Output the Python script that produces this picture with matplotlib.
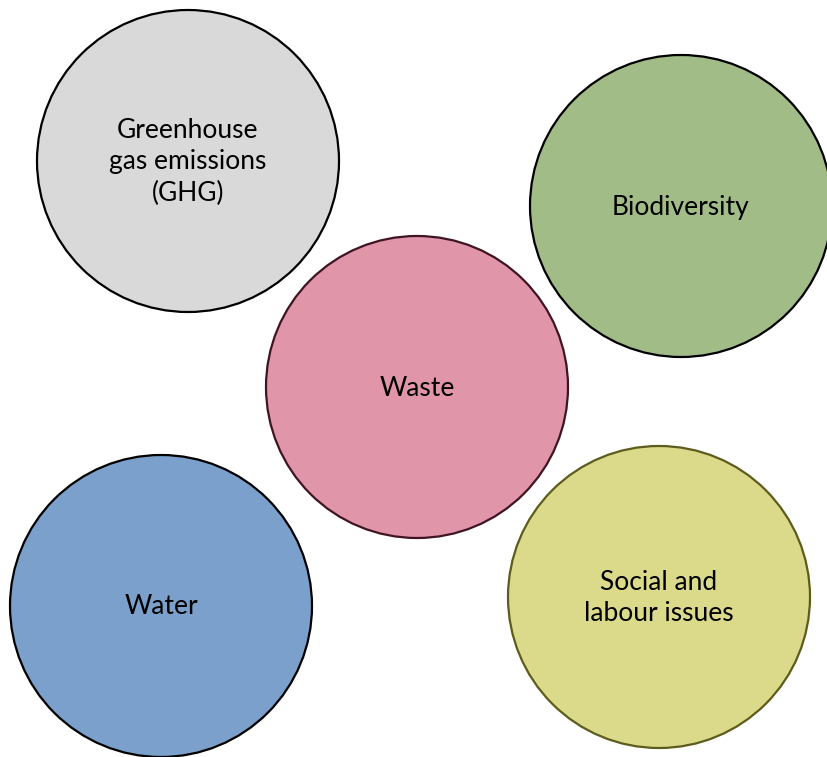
import matplotlib.pyplot as plt
from matplotlib.patches import Circle

# Circle labels, centres (pixel coords of the original picture) and colours
labels = ['Greenhouse\ngas emissions\n(GHG)', 'Biodiversity', 'Waste', 'Water', 'Social and\nlabour issues']
centres_x = [188, 681, 417, 161, 659]
centres_y = [161, 206, 387, 606, 597]
radius = 151
fills = ['#d9d9d9', '#a2bc88', '#e095a9', '#7aa0cb', '#dbda8b']
edges = ['#000000', '#000000', '#3f1423', '#000000', '#5c5c1c']

fig = plt.figure(figsize=(8.27, 7.57), dpi=100)
ax = fig.add_axes([0, 0, 1, 1])
ax.set_xlim(0, 827)
ax.set_ylim(757, 0)
ax.set_aspect('equal')
ax.axis('off')

for lab, cx, cy, fc, ec in zip(labels, centres_x, centres_y, fills, edges):
    ax.add_patch(Circle((cx, cy), radius, facecolor=fc, edgecolor=ec, linewidth=1.6))
    ax.text(cx, cy + 1, lab, ha='center', va='center', fontsize=19,
            family='Lato', color='black', linespacing=1.32)

plt.savefig('out.png', dpi=100)
